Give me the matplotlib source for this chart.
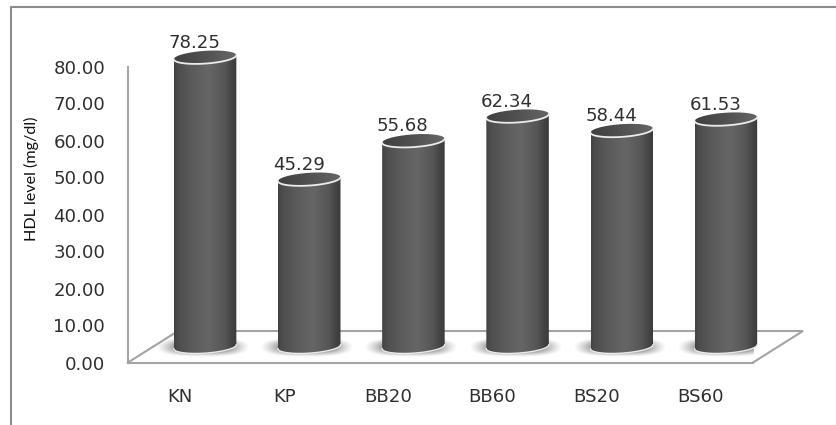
import numpy as np
import matplotlib
matplotlib.use("Agg")
import matplotlib.pyplot as plt
from matplotlib.lines import Line2D
from matplotlib.path import Path
from matplotlib.patches import PathPatch

groups = ["KN", "KP", "BB20", "BB60", "BS20", "BS60"]
hdl_levels = [78.25, 45.29, 55.68, 62.34, 58.44, 61.53]
y_ticks = [0, 10, 20, 30, 40, 50, 60, 70, 80]

W, H = 836, 425
fig = plt.figure(figsize=(W / 100, H / 100), dpi=100, facecolor="white")
ax = fig.add_axes([128 / W, 1 - 362.5 / H, 625 / W, 296 / H])
ax.set_facecolor("none")

TEXT = "#2f2f2f"
LINE = "#a4a4a4"
FS = 13.1

# oblique projection of the chart depth, in data units per full depth
DX, DY = 50 / (625 / 6), 31.5 / 3.7
BAR_A = 0.30       # half width of a cylinder
BAR_B = 1.72       # half height of its end ellipses
LIFT = 0.55        # rise of the ellipse's right end above its centre

ax.set_xlim(0, 6)
ax.set_ylim(0, 80)
ax.set_xticks(np.arange(6) + 0.5, groups)
ax.set_yticks(y_ticks, [f"{v:.2f}" for v in y_ticks])
ax.tick_params(axis="y", length=0, pad=16.4, labelsize=FS, labelcolor=TEXT)
ax.tick_params(axis="x", length=0, pad=18.0, labelsize=FS, labelcolor=TEXT)
for side in ("top", "right"):
    ax.spines[side].set_visible(False)
for side in ("left", "bottom"):
    ax.spines[side].set_color(LINE)
    ax.spines[side].set_linewidth(1.5)

ax.set_ylabel("HDL level (mg/dl)", family="Lato", fontsize=11.6, color="#111111")
ax.yaxis.set_label_coords((39 - 128) / 625, (362.5 - 179) / 296)

# floor outline
ax.plot([0, DX, 6 + DX, 6], [0, DY, DY, 0], color=LINE, lw=1.5, clip_on=False,
        solid_joinstyle="miter", zorder=1)

# outer frame lines
fig.add_artist(Line2D([11 / W, 11 / W, 1], [0, 1 - 7 / H, 1 - 7 / H], color="#8c8c8c", lw=1.5))

side_shade = np.interp(np.linspace(0, 1, 200),
                       [0, 0.06, 0.25, 0.55, 0.8, 0.95, 1],
                       [0.26, 0.30, 0.35, 0.40, 0.34, 0.25, 0.23])
cap_shade = np.interp(np.linspace(0, 1, 200), [0, 0.5, 1], [0.25, 0.32, 0.40])

# soft contact shadow on the floor
gx, gy = np.meshgrid(np.linspace(-1, 1, 160), np.linspace(-1, 1, 60))
shadow = np.zeros(gx.shape + (4,))
shadow[..., :3] = 0.42
rad = (np.abs(gx) ** 3 + np.abs(gy) ** 2.4) ** (1 / 2.6)
shadow[..., 3] = 0.85 * np.clip((1 - rad) / 0.55, 0, 1) ** 1.3


def ring(cx, cy, t):
    x = cx + BAR_A * np.cos(t)
    y = cy + BAR_B * np.sin(t) + LIFT * np.cos(t)
    return x, y


for i, val in enumerate(hdl_levels):
    cx = i + 0.5 + DX / 2
    base = DY / 2
    top = base + val

    ax.imshow(shadow, extent=[cx - 0.47, cx + 0.43, base - 2.7, base + 2.5], aspect="auto",
              origin="lower", zorder=2, interpolation="bilinear")

    t = np.linspace(np.pi, 2 * np.pi, 60)
    bx, by = ring(cx, base, t)
    tx, ty = ring(cx, top, t[::-1])
    body = np.column_stack([np.r_[bx, tx], np.r_[by, ty]])
    body_patch = PathPatch(Path(body), fc="none", ec="none", transform=ax.transData, zorder=3)
    body_patch.set_clip_on(False)
    ax.add_patch(body_patch)
    img = ax.imshow(side_shade[None, :], cmap="gray", vmin=0, vmax=1, aspect="auto",
                    extent=[cx - BAR_A, cx + BAR_A, base - 3, top + 3], zorder=3,
                    interpolation="bilinear")
    img.set_clip_box(fig.bbox)
    img.set_clip_path(body_patch)

    # light rim along the foot of the cylinder
    ax.plot(bx, by, color="#e9e9e9", lw=1.0, zorder=4, clip_on=False)

    tt = np.linspace(0, 2 * np.pi, 120)
    ex, ey = ring(cx, top, tt)
    cap_patch = PathPatch(Path(np.column_stack([ex, ey])), fc="none", ec="none",
                          transform=ax.transData, zorder=5)
    cap_patch.set_clip_on(False)
    ax.add_patch(cap_patch)
    cap = ax.imshow(cap_shade[None, :], cmap="gray", vmin=0, vmax=1, aspect="auto",
                    extent=[cx - BAR_A, cx + BAR_A, top - 3, top + 3], zorder=5,
                    interpolation="bilinear")
    cap.set_clip_box(fig.bbox)
    cap.set_clip_path(cap_patch)
    fx, fy = ring(cx, top, t)
    ax.plot(fx, fy, color="#ececec", lw=1.3, zorder=6, clip_on=False, solid_capstyle="round")

    ax.annotate(f"{val:.2f}", xy=(i + 0.5, val), xytext=(14.5, 30), textcoords="offset pixels",
                ha="center", va="center", fontsize=FS, color=TEXT, zorder=7, annotation_clip=False)

ax.set_xlim(0, 6)
ax.set_ylim(0, 80)

fig.savefig("out.png", dpi=100)
